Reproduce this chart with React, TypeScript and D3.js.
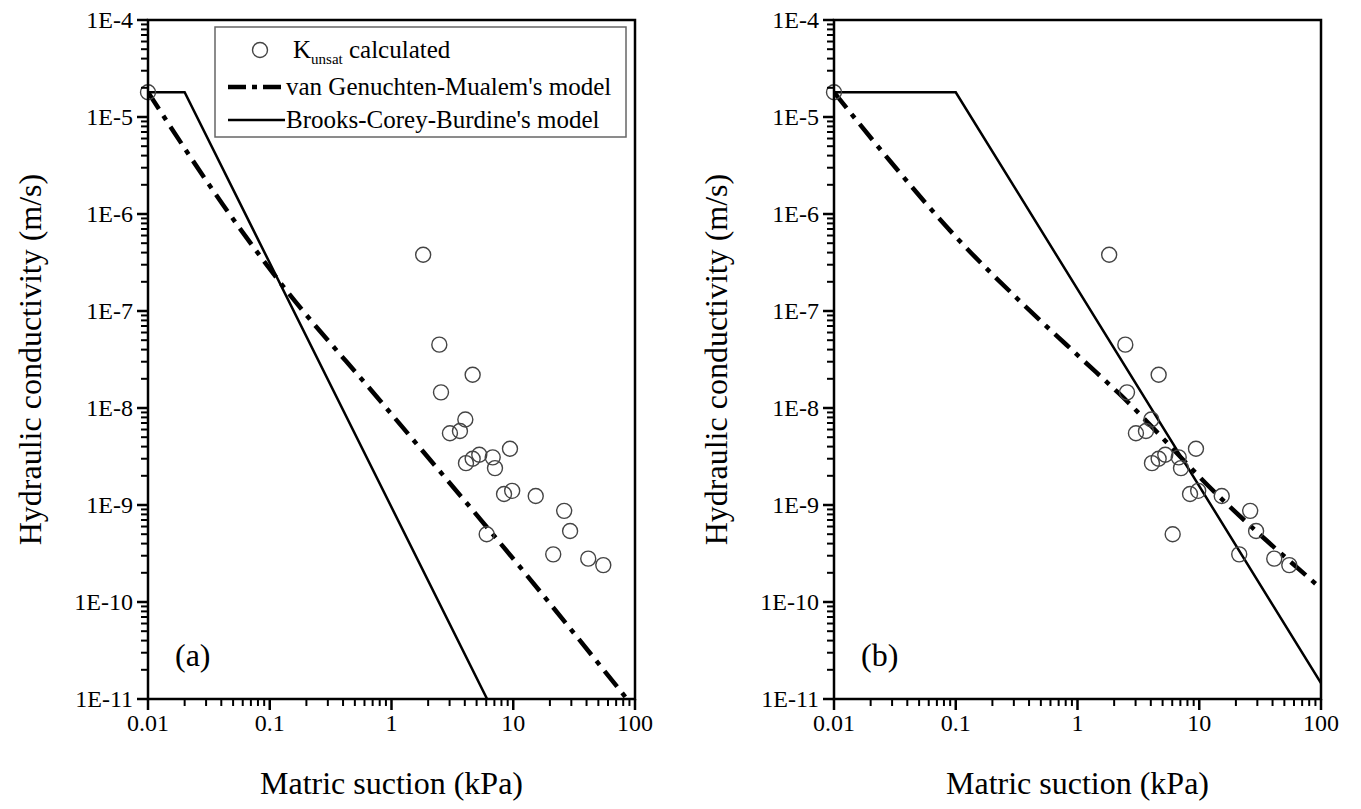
import React, { useEffect, useRef } from "react";
import * as d3 from "d3";

// measured points (same in both panels)
const suction = [0.01, 1.82, 2.47, 4.64, 2.55, 4.04, 3.02, 3.65, 4.09, 4.64, 5.26, 6.78, 7.08, 9.4, 8.4, 9.8, 15.3, 26.2, 29.3, 6.05, 21.3, 41.3, 54.9];
const kCalc = [1.8e-5, 3.8e-7, 4.5e-8, 2.2e-8, 1.45e-8, 7.6e-9, 5.5e-9, 5.8e-9, 2.7e-9, 3.0e-9, 3.3e-9, 3.1e-9, 2.4e-9, 3.8e-9, 1.3e-9, 1.4e-9, 1.24e-9, 8.7e-10, 5.4e-10, 5.0e-10, 3.1e-10, 2.8e-10, 2.4e-10];

// van Genuchten-Mualem curves
const vgSuctionA = [0.01, 0.0414, 0.117, 0.82, 11.9, 86];
const vgKA = [1.8e-5, 1.24e-6, 2.1e-7, 1.16e-8, 2.14e-10, 1e-11];
const vgSuctionB = [0.01, 0.0284, 0.1, 0.375, 1.105, 2.18, 14.6, 100];
const vgKB = [1.8e-5, 3.6e-6, 5.83e-7, 1.11e-7, 3.13e-8, 1.42e-8, 1.22e-9, 1.38e-10];

// Brooks-Corey-Burdine curves
const bcSuctionA = [0.01, 0.02, 6.1];
const bcKA = [1.8e-5, 1.8e-5, 1e-11];
const bcSuctionB = [0.01, 0.1, 100];
const bcKB = [1.8e-5, 1.8e-5, 1.46e-11];

const xTicks = [0.01, 0.1, 1, 10, 100];
const xTickLabels = ["0.01", "0.1", "1", "10", "100"];
const yTicks = [1e-4, 1e-5, 1e-6, 1e-7, 1e-8, 1e-9, 1e-10, 1e-11];
const yTickLabels = ["1E-4", "1E-5", "1E-6", "1E-7", "1E-8", "1E-9", "1E-10", "1E-11"];

const legendLabels = ["calculated", "van Genuchten-Mualem's model", "Brooks-Corey-Burdine's model"];

const FONT = "Liberation Serif, DejaVu Serif, serif";
const DASH = "20,8,5,8";

const App = () => {
  const svgRef = useRef(null);

  const width = 1361;
  const height = 809;
  const plotW = 487;
  const plotH = 679;

  useEffect(() => {
    const svg = d3.select(svgRef.current);
    svg.selectAll("*").remove();

    const xScale = d3.scaleLog().domain([0.01, 100]).range([0, plotW]);
    const yScale = d3.scaleLog().domain([1e-11, 1e-4]).range([plotH, 0]);

    const line = d3
      .line()
      .x(d => xScale(d[0]))
      .y(d => yScale(d[1]))
      .curve(d3.curveMonotoneX);
    const straight = d3
      .line()
      .x(d => xScale(d[0]))
      .y(d => yScale(d[1]));

    const panels = [
      { id: "a", left: 148, label: "(a)", vgX: vgSuctionA, vgY: vgKA, bcX: bcSuctionA, bcY: bcKA, legend: true },
      { id: "b", left: 834, label: "(b)", vgX: vgSuctionB, vgY: vgKB, bcX: bcSuctionB, bcY: bcKB, legend: false }
    ];

    // minor tick values
    const xMinor = [];
    for (let e = -2; e < 2; e++) for (let k = 2; k <= 9; k++) xMinor.push(k * Math.pow(10, e));
    const yMinor = [];
    for (let e = -11; e < -4; e++) for (let k = 2; k <= 9; k++) yMinor.push(k * Math.pow(10, e));

    const txt = sel => sel.style("font-family", FONT);

    panels.forEach(p => {
      const g = svg.append("g").attr("transform", `translate(${p.left},20)`);

      g.append("clipPath")
        .attr("id", `clip-${p.id}`)
        .append("rect")
        .attr("width", plotW)
        .attr("height", plotH);

      const plot = g.append("g").attr("clip-path", `url(#clip-${p.id})`);

      // BROOKS-COREY
      plot
        .append("path")
        .attr("d", straight(p.bcX.map((x, i) => [x, p.bcY[i]])))
        .attr("fill", "none")
        .attr("stroke", "#000")
        .attr("stroke-width", 2.5);

      // VAN GENUCHTEN
      plot
        .append("path")
        .attr("d", line(p.vgX.map((x, i) => [x, p.vgY[i]])))
        .attr("fill", "none")
        .attr("stroke", "#000")
        .attr("stroke-width", 4.5)
        .attr("stroke-dasharray", DASH);

      // POINTS
      g.selectAll(".pt")
        .data(suction.map((x, i) => [x, kCalc[i]]))
        .join("circle")
        .attr("class", "pt")
        .attr("cx", d => xScale(d[0]))
        .attr("cy", d => yScale(d[1]))
        .attr("r", 7.5)
        .attr("fill", "none")
        .attr("stroke", "#444")
        .attr("stroke-width", 1.4);

      // FRAME
      g.append("rect")
        .attr("width", plotW)
        .attr("height", plotH)
        .attr("fill", "none")
        .attr("stroke", "#000")
        .attr("stroke-width", 2.5);

      // X AXIS
      const xAxis = g.append("g").attr("transform", `translate(0,${plotH})`);
      xAxis
        .selectAll(".xmin")
        .data(xMinor)
        .join("line")
        .attr("x1", d => xScale(d))
        .attr("x2", d => xScale(d))
        .attr("y1", 0)
        .attr("y2", 7)
        .attr("stroke", "#000")
        .attr("stroke-width", 2);
      xAxis
        .selectAll(".xmaj")
        .data(xTicks)
        .join("line")
        .attr("x1", d => xScale(d))
        .attr("x2", d => xScale(d))
        .attr("y1", 0)
        .attr("y2", 11)
        .attr("stroke", "#000")
        .attr("stroke-width", 2.5);
      xAxis
        .selectAll(".xlab")
        .data(xTicks)
        .join("text")
        .attr("x", d => xScale(d))
        .attr("y", 32)
        .attr("text-anchor", "middle")
        .call(txt)
        .attr("font-size", 24)
        .text((d, i) => xTickLabels[i]);

      // Y AXIS
      const yAxis = g.append("g");
      yAxis
        .selectAll(".ymin")
        .data(yMinor)
        .join("line")
        .attr("x1", 0)
        .attr("x2", -7)
        .attr("y1", d => yScale(d))
        .attr("y2", d => yScale(d))
        .attr("stroke", "#000")
        .attr("stroke-width", 2);
      yAxis
        .selectAll(".ymaj")
        .data(yTicks)
        .join("line")
        .attr("x1", 0)
        .attr("x2", -11)
        .attr("y1", d => yScale(d))
        .attr("y2", d => yScale(d))
        .attr("stroke", "#000")
        .attr("stroke-width", 2.5);
      yAxis
        .selectAll(".ylab")
        .data(yTicks)
        .join("text")
        .attr("x", -15)
        .attr("y", d => yScale(d) + 8)
        .attr("text-anchor", "end")
        .call(txt)
        .attr("font-size", 24)
        .text((d, i) => yTickLabels[i]);

      // TITLES
      g.append("text")
        .attr("x", plotW / 2)
        .attr("y", plotH + 95)
        .attr("text-anchor", "middle")
        .call(txt)
        .attr("font-size", 32)
        .text("Matric suction (kPa)");
      g.append("text")
        .attr("transform", `translate(-107,${plotH / 2}) rotate(-90)`)
        .attr("text-anchor", "middle")
        .call(txt)
        .attr("font-size", 32)
        .text("Hydraulic conductivity (m/s)");

      g.append("text")
        .attr("x", 27)
        .attr("y", 646)
        .call(txt)
        .attr("font-size", 32)
        .text(p.label);

      // LEGEND
      if (p.legend) {
        const lg = g.append("g").attr("transform", "translate(67,7)");
        lg.append("rect")
          .attr("width", 411)
          .attr("height", 110)
          .attr("fill", "#fff")
          .attr("stroke", "#666")
          .attr("stroke-width", 1.5);
        lg.append("circle")
          .attr("cx", 45)
          .attr("cy", 23)
          .attr("r", 7.5)
          .attr("fill", "none")
          .attr("stroke", "#444")
          .attr("stroke-width", 1.4);
        const k = lg.append("text")
          .attr("x", 78)
          .attr("y", 31)
          .call(txt)
          .attr("font-size", 25);
        k.append("tspan").text("K");
        k.append("tspan").attr("font-size", 15).attr("dy", 6).text("unsat");
        k.append("tspan").attr("dy", -6).text(" " + legendLabels[0]);

        lg.append("line")
          .attr("x1", 13)
          .attr("x2", 70)
          .attr("y1", 60)
          .attr("y2", 60)
          .attr("stroke", "#000")
          .attr("stroke-width", 4.5)
          .attr("stroke-dasharray", "18,6,5,6");
        lg.append("text")
          .attr("x", 71)
          .attr("y", 68)
          .call(txt)
          .attr("font-size", 25)
          .text(legendLabels[1]);

        lg.append("line")
          .attr("x1", 13)
          .attr("x2", 70)
          .attr("y1", 93)
          .attr("y2", 93)
          .attr("stroke", "#000")
          .attr("stroke-width", 2.5);
        lg.append("text")
          .attr("x", 71)
          .attr("y", 101)
          .call(txt)
          .attr("font-size", 25)
          .text(legendLabels[2]);
      }
    });
  }, []);

  return (
    <svg
      ref={svgRef}
      width={width}
      height={height}
      style={{ position: "absolute", left: 0, top: 0, background: "#fff" }}
    />
  );
};

export default App;
